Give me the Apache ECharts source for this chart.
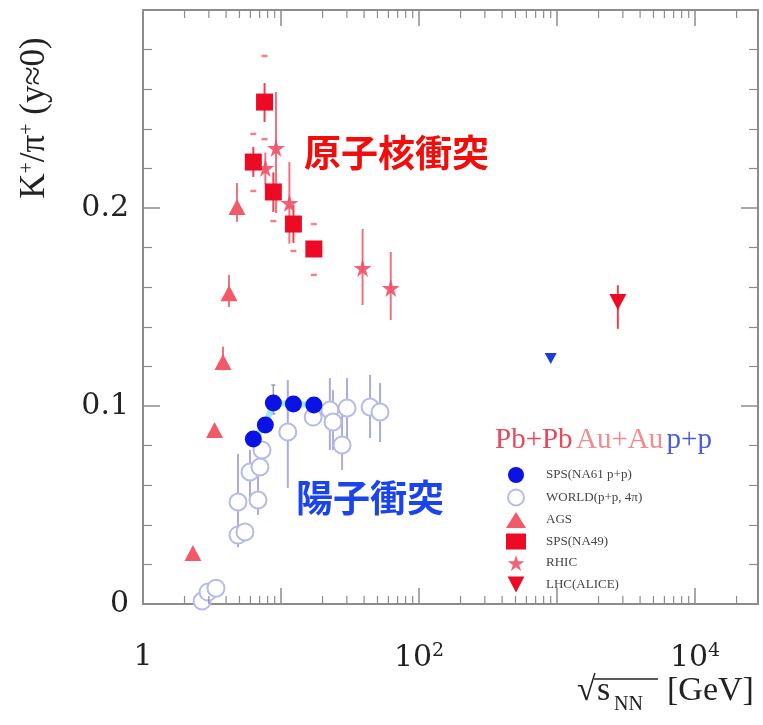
<!DOCTYPE html>
<html>
<head>
<meta charset="utf-8">
<script src="https://cdn.jsdelivr.net/npm/echarts@6/dist/echarts.min.js"></script>
<style>
  html, body { margin: 0; padding: 0; background: #fff; }
  #chart { width: 763px; height: 725px; }
</style>
</head>
<body>
<div id="chart"></div>
<script>
// K+/pi+ ratio at mid-rapidity vs collision energy sqrt(s_NN)

// --- p+p: NA61/SHINE
const na61X = [6.3, 7.7, 8.8, 12.3, 17.3];
const na61Y = [0.0833, 0.0904, 0.1015, 0.1010, 0.1005];
const na61Lo = [0.0800, 0.0870, 0.0960, 0.0975, 0.0970];
const na61Hi = [0.0866, 0.0938, 0.1106, 0.1045, 0.1040];

// --- p+p: world data (4pi)
const worldX = [2.68, 2.96, 3.38, 4.88, 5.48, 4.88, 5.96, 7.04, 7.28, 6.81, 11.2, 17.1, 22.6, 23.8, 27.7, 30.1, 44.2, 52.2];
const worldY = [0.0015, 0.006, 0.008, 0.0348, 0.0364, 0.0515, 0.0667, 0.0692, 0.0778, 0.0525, 0.0869, 0.0944, 0.098, 0.0919, 0.0803, 0.099, 0.0995, 0.097];
const worldLo = [null, null, null, null, null, 0.0288, 0.054, null, null, 0.045, 0.0586, null, 0.0778, 0.0778, 0.0677, 0.0828, 0.0838, 0.0818];
const worldHi = [null, null, null, null, null, 0.0758, 0.0778, null, null, 0.0788, 0.1131, null, 0.1141, 0.108, 0.098, 0.1141, 0.1157, 0.1116];

// --- p+p at 900 GeV
const pp900X = [900];
const pp900Y = [0.124];

// --- Au+Au: AGS
const agsX = [2.30, 3.30, 3.80, 4.20, 4.80];
const agsY = [0.0258, 0.0879, 0.1222, 0.157, 0.2005];
const agsLo = [null, null, 0.118, 0.150, 0.193];
const agsHi = [null, null, 0.130, 0.1662, 0.2126];

// --- Pb+Pb: SPS NA49
const na49X = [6.3, 7.6, 8.8, 12.3, 17.3];
const na49Y = [0.2232, 0.2535, 0.2081, 0.1919, 0.1793];
const na49Lo = [0.2157, 0.2434, 0.198, 0.1823, 0.1753];
const na49Hi = [0.2308, 0.2631, 0.218, 0.2015, 0.1833];
const na49SysLo = [0.2086, 0.2348, 0.1934, 0.1783, 0.1662];
const na49SysHi = [0.2374, 0.2768, null, null, 0.1919];

// --- Au+Au: RHIC
const rhicX = [7.7, 9.2, 11.5, 39, 62.4];
const rhicY = [0.2202, 0.2303, 0.2025, 0.1697, 0.1596];
const rhicLo = [0.212, 0.1975, 0.182, 0.151, 0.1434];
const rhicHi = [0.228, 0.2586, 0.2232, 0.1894, 0.1778];

// --- Pb+Pb: LHC ALICE
const aliceX = [2760];
const aliceY = [0.1525];
const aliceLo = [0.139];
const aliceHi = [0.161];

// axis ranges and labelled decades
const xMin = 1, xMax = 28600;
const yMin = 0, yMax = 0.3;
const xLabelDecades = { 0: '1', 2: '10{sup|2}', 4: '10{sup|4}' };
const yLabels = { '0': '0', '0.1': '0.1', '0.2': '0.2' };

const SERIF = '"Liberation Serif", "Times New Roman", serif';
const SERIF2 = '"DejaVu Serif", serif';
const CJK = '"Noto Sans CJK JP", "Noto Sans CJK SC", sans-serif';
const FRAME = '#8c8c8c';
const INK = '#222';
const STAR = 'path://M50,0 L61,35 L98,35 L68,57 L79,91 L50,70 L21,91 L32,57 L2,35 L39,35 Z';
const DOWN_TRI = 'path://M0,0 L100,0 L50,95 Z';

const zip = (xs, ys) => xs.map((x, i) => [x, ys[i]]);

function errorBars(xs, lo, hi, color, width, capHalf) {
  const data = [];
  xs.forEach((x, i) => { if (lo[i] != null && hi[i] != null) data.push([x, lo[i], hi[i]]); });
  return {
    type: 'custom', silent: true, z: 1, data,
    encode: { x: 0, y: [1, 2] },
    renderItem(params, api) {
      const a = api.coord([api.value(0), api.value(1)]);
      const b = api.coord([api.value(0), api.value(2)]);
      const st = { stroke: color, lineWidth: width };
      const ch = [{ type: 'line', shape: { x1: a[0], y1: a[1], x2: b[0], y2: b[1] }, style: st }];
      if (capHalf) {
        ch.push({ type: 'line', shape: { x1: a[0] - capHalf, y1: a[1], x2: a[0] + capHalf, y2: a[1] }, style: st });
        ch.push({ type: 'line', shape: { x1: b[0] - capHalf, y1: b[1], x2: b[0] + capHalf, y2: b[1] }, style: st });
      }
      return { type: 'group', children: ch };
    }
  };
}

// small dashes marking systematic limits
function sysMarks(xs, vals, color) {
  const data = [];
  xs.forEach((x, i) => { if (vals[i] != null) data.push([x, vals[i]]); });
  return {
    type: 'scatter', silent: true, z: 1, data,
    symbol: 'rect', symbolSize: [6, 2.5],
    itemStyle: { color: color, opacity: 0.8 }
  };
}

// log-axis minor ticks (2..9 within each decade) on bottom and top edges
const minorX = [];
for (let d = 0; d <= 4; d++) {
  for (let m = 2; m <= 9; m++) {
    const v = m * Math.pow(10, d);
    if (v < xMax) minorX.push([v]);
  }
}
const minorTicks = {
  type: 'custom', silent: true, z: 5, data: minorX,
  encode: { x: 0 },
  renderItem(params, api) {
    const cs = params.coordSys;
    const x = api.coord([api.value(0), yMin])[0];
    const st = { stroke: FRAME, lineWidth: 1.2 };
    return {
      type: 'group', children: [
        { type: 'line', shape: { x1: x, y1: cs.y + cs.height, x2: x, y2: cs.y + cs.height - 8 }, style: st },
        { type: 'line', shape: { x1: x, y1: cs.y, x2: x, y2: cs.y + 8 }, style: st }
      ]
    };
  }
};

const chart = echarts.init(document.getElementById('chart'), null, { renderer: 'canvas' });

const xCommon = {
  type: 'log', logBase: 10, min: xMin, max: xMax,
  axisLine: { show: true, onZero: false, lineStyle: { color: FRAME, width: 2 } },
  axisTick: { show: true, inside: true, length: 16, lineStyle: { color: FRAME, width: 1.5 } },
  splitLine: { show: false }, minorTick: { show: false }
};
const yCommon = {
  type: 'value', min: yMin, max: yMax, interval: 0.1,
  axisLine: { show: true, onZero: false, lineStyle: { color: FRAME, width: 2 } },
  axisTick: { show: true, inside: true, length: 17, lineStyle: { color: FRAME, width: 1.5 } },
  minorTick: { show: true, splitNumber: 5, length: 9, lineStyle: { color: FRAME, width: 1.2 } },
  splitLine: { show: false }
};

const option = {
  backgroundColor: '#fff',
  animation: false,
  grid: { left: 143, right: 5, top: 10, bottom: 121, containLabel: false },
  xAxis: [
    Object.assign({}, xCommon, {
      position: 'bottom',
      axisLabel: {
        show: true, margin: 38, fontFamily: SERIF2, fontSize: 30, color: INK,
        showMaxLabel: false,
        formatter: (v) => {
          const d = Math.log10(v);
          const r = Math.round(d);
          if (Math.abs(d - r) < 1e-6 && xLabelDecades[r] != null) return xLabelDecades[r];
          return '';
        },
        rich: { sup: { fontFamily: SERIF2, fontSize: 19, verticalAlign: 'top', padding: [0, 0, 14, 0], color: INK } }
      }
    }),
    Object.assign({}, xCommon, { position: 'top', axisLabel: { show: false } })
  ],
  yAxis: [
    Object.assign({}, yCommon, {
      position: 'left',
      axisLabel: {
        show: true, margin: 14, fontFamily: SERIF2, fontSize: 30, color: INK,
        formatter: (v) => {
          const k = String(Math.round(v * 10) / 10);
          return yLabels[k] != null ? yLabels[k] : '';
        }
      }
    }),
    Object.assign({}, yCommon, { position: 'right', axisLabel: { show: false } })
  ],
  legend: {
    orient: 'vertical', left: 501, top: 462,
    itemWidth: 20, itemHeight: 16, itemGap: 5.5,
    selectedMode: false,
    textStyle: { fontFamily: SERIF, fontSize: 13, color: '#444', padding: [0, 0, 0, 15] },
    data: ['SPS(NA61 p+p)', 'WORLD(p+p, 4\u03c0)', 'AGS', 'SPS(NA49)', 'RHIC', 'LHC(ALICE)']
  },
  graphic: [
    {
      type: 'text', left: 495, top: 426, silent: true,
      style: {
        text: '{a|Pb+Pb} {b|Au+Au} {c|p+p}',
        rich: {
          a: { fontFamily: SERIF, fontSize: 29, fill: '#e9495a' },
          b: { fontFamily: SERIF, fontSize: 29, fill: '#f28c8f' },
          c: { fontFamily: SERIF, fontSize: 29, fill: '#4b5be0' }
        }
      }
    },
    {
      type: 'text', left: 304, top: 134, silent: true,
      style: { text: '原子核衝突', fontFamily: CJK, fontSize: 37, fontWeight: 'bold', fill: '#f20d0d' }
    },
    {
      type: 'text', left: 296, top: 479, silent: true,
      style: { text: '陽子衝突', fontFamily: CJK, fontSize: 37, fontWeight: 'bold', fill: '#1a44ee' }
    },
    {
      type: 'text', x: 35, y: 118, rotation: Math.PI / 2, silent: true,
      style: {
        text: 'K{sup|+}/\u03c0{sup|+} (y\u22480)',
        align: 'center', verticalAlign: 'middle',
        fontFamily: SERIF, fontSize: 35, fill: INK,
        rich: { sup: { fontFamily: SERIF, fontSize: 20, verticalAlign: 'top', padding: [0, 0, 15, 0], fill: INK } }
      }
    },
    // x-axis title: sqrt(s_NN) [GeV]
    {
      type: 'text', x: 577, y: 708, silent: true,
      style: { text: '\u221a', fontFamily: SERIF, fontSize: 34, fill: INK, verticalAlign: 'bottom' }
    },
    {
      type: 'line', silent: true,
      shape: { x1: 594, y1: 679, x2: 658, y2: 679 },
      style: { stroke: INK, lineWidth: 1.5 }
    },
    {
      type: 'text', x: 597, y: 708, silent: true,
      style: { text: 's', fontFamily: SERIF, fontSize: 34, fill: INK, verticalAlign: 'bottom' }
    },
    {
      type: 'text', x: 614, y: 715, silent: true,
      style: { text: 'NN', fontFamily: SERIF, fontSize: 20, fill: INK, verticalAlign: 'bottom' }
    },
    {
      type: 'text', x: 667, y: 708, silent: true,
      style: { text: '[GeV]', fontFamily: SERIF, fontSize: 34, fill: INK, verticalAlign: 'bottom' }
    }
  ],
  series: [
    minorTicks,
    errorBars(worldX, worldLo, worldHi, '#a9acdc', 2, 0),
    errorBars(na61X, na61Lo, na61Hi, '#9a9ab0', 1.5, 2),
    errorBars(agsX, agsLo, agsHi, '#f27080', 2, 0),
    errorBars(na49X, na49Lo, na49Hi, '#f04050', 2, 0),
    errorBars(rhicX, rhicLo, rhicHi, '#f27080', 2, 0),
    errorBars(aliceX, aliceLo, aliceHi, '#f04050', 2, 0),
    sysMarks(na49X, na49SysLo, '#f06070'),
    sysMarks(na49X, na49SysHi, '#f06070'),
    {
      name: 'WORLD(p+p, 4\u03c0)', type: 'scatter', z: 3,
      symbol: 'circle', symbolSize: 17,
      itemStyle: { color: '#fff', borderColor: '#b4bbe8', borderWidth: 2, opacity: 1 },
      data: zip(worldX, worldY)
    },
    {
      name: 'NA61 trend', type: 'line', z: 4, silent: true,
      symbol: 'none',
      lineStyle: { color: '#8fe6f2', width: 6, opacity: 0.85 },
      data: zip(na61X, na61Y)
    },
    {
      name: 'SPS(NA61 p+p)', type: 'scatter', z: 5,
      symbol: 'circle', symbolSize: 17,
      itemStyle: { color: '#0a12e6', opacity: 1 },
      data: zip(na61X, na61Y)
    },
    {
      name: 'p+p 900 GeV', type: 'scatter', z: 5,
      symbol: DOWN_TRI, symbolSize: [12, 11],
      itemStyle: { color: '#1a3ce0', opacity: 1 },
      data: zip(pp900X, pp900Y)
    },
    {
      name: 'AGS', type: 'scatter', z: 5,
      symbol: 'triangle', symbolSize: [17, 16],
      itemStyle: { color: '#f25a6a', opacity: 1 },
      data: zip(agsX, agsY)
    },
    {
      name: 'RHIC', type: 'scatter', z: 5,
      symbol: STAR, symbolSize: 18,
      itemStyle: { color: '#f25068', opacity: 0.9 },
      data: zip(rhicX, rhicY)
    },
    {
      name: 'SPS(NA49)', type: 'scatter', z: 6,
      symbol: 'rect', symbolSize: 17,
      itemStyle: { color: '#ec0a24', opacity: 1 },
      data: zip(na49X, na49Y)
    },
    {
      name: 'LHC(ALICE)', type: 'scatter', z: 6,
      symbol: DOWN_TRI, symbolSize: [17, 16],
      itemStyle: { color: '#ec0a24', opacity: 1 },
      data: zip(aliceX, aliceY)
    }
  ]
};

chart.setOption(option);
</script>
</body>
</html>
